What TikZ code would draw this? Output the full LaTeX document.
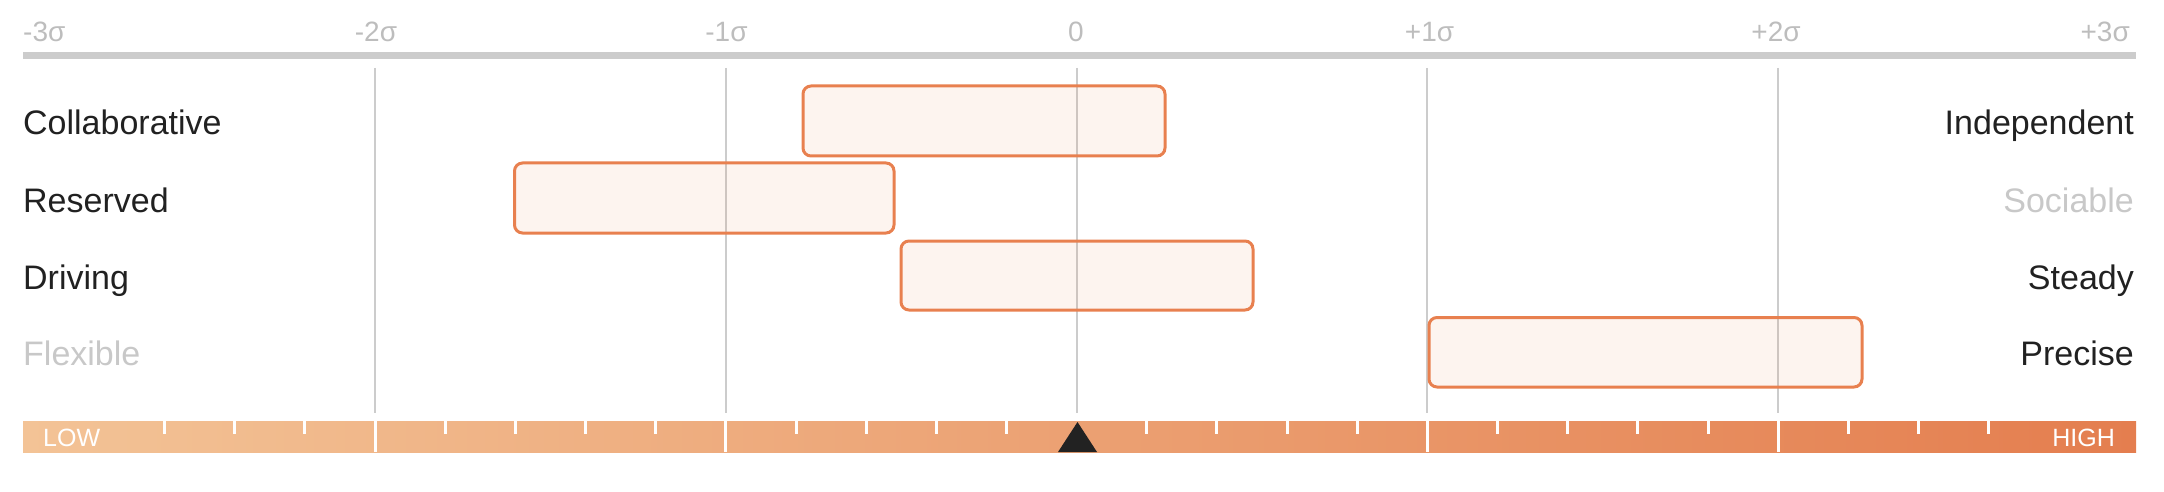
\documentclass[tikz,border=0pt]{standalone}
\usepackage{fontspec}
\setmainfont{Liberation Sans}
\definecolor{txt}{HTML}{212121}
\definecolor{faint}{HTML}{C8C8C8}
\definecolor{axis}{HTML}{BDBDBD}
\definecolor{gridc}{HTML}{CCCCCC}
\definecolor{orng}{HTML}{E8804F}
\definecolor{barL}{HTML}{F3C396}
\definecolor{barR}{HTML}{E47E4F}
\definecolor{tri}{HTML}{222222}
\begin{document}
\begin{tikzpicture}[x=1pt,y=-1pt,
  axislabel/.style={font=\fontsize{28}{28}\selectfont, text=axis, inner sep=0pt},
  rowlabel/.style={font=\fontsize{34}{34}\selectfont, text=txt, inner sep=0pt},
  dimlabel/.style={rowlabel, text=faint},
  barlabel/.style={font=\fontsize{25}{25}\selectfont, text=white, inner sep=0pt},
  gridline/.style={draw=gridc, line width=2pt},
  band/.style={draw=orng, line width=3pt, fill=orng, fill opacity=0.09, draw opacity=1, rounded corners=8pt},
  sep/.style={draw=white, line width=3pt},
  tickmark/.style={draw=white, line width=3pt}]
\useasboundingbox (0,0) rectangle (2164,492);
% axis labels
\node[axislabel, anchor=base west] (lm3) at (23,42) {-3σ};
\node[axislabel, anchor=base] (lm2) at (376,42) {-2σ};
\node[axislabel, anchor=base] (lm1) at (726.5,42) {-1σ};
\node[axislabel, anchor=base] (l0) at (1076,42) {0};
\node[axislabel, anchor=base] (lp1) at (1429.5,42) {+1σ};
\node[axislabel, anchor=base] (lp2) at (1776,42) {+2σ};
\node[axislabel, anchor=base east] (lp3) at (2130,42) {+3σ};
% top bar
\fill[gridc] (23,52.5) rectangle (2136,59);
% grid lines
\foreach \xx in {375,725.8,1076.6,1427.4,1778.2}{
  \draw[gridline] (\xx,68) -- (\xx,413);
}
% bands
\draw[band] (803,86) rectangle (1165,156);
\draw[band] (514.5,163) rectangle (894,233);
\draw[band] (901,241) rectangle (1253,310);
\draw[band] (1429,317.5) rectangle (1862,387);
% row labels
\node[rowlabel, anchor=base west] (c) at (23,135) {Collaborative};
\node[rowlabel, anchor=base west] (r) at (23,212) {Reserved};
\node[rowlabel, anchor=base west] (d) at (23,289) {Driving};
\node[dimlabel, anchor=base west] (f) at (23,365) {Flexible};
\node[rowlabel, anchor=base east] (i) at (2134,135) {Independent};
\node[dimlabel, anchor=base east] (so) at (2134,212) {Sociable};
\node[rowlabel, anchor=base east] (st) at (2134,289) {Steady};
\node[rowlabel, anchor=base east] (p) at (2134,365) {Precise};
% bottom bar
\shade[left color=barL, right color=barR] (23,421) rectangle (2136,452);
\foreach \xx in {375,725.8,1427.4,1778.2}{
  \draw[sep] (\xx,421) -- (\xx,452);
}
\foreach \xx in {164.5,234.7,304.8,445.2,515.3,585.5,655.6,796.0,866.1,936.3,1006.4,
                 1146.8,1216.9,1287.1,1357.2,1497.6,1567.7,1637.9,1708.0,1848.4,1918.5,1988.7}{
  \draw[tickmark] (\xx,421) -- (\xx,434);
}
\fill[tri] (1077.5,422) -- (1097,452) -- (1058,452) -- cycle;
\node[barlabel, anchor=base west] (low) at (43,446) {LOW};
\node[barlabel, anchor=base east] (high) at (2115,446) {HIGH};
\end{tikzpicture}
\end{document}
